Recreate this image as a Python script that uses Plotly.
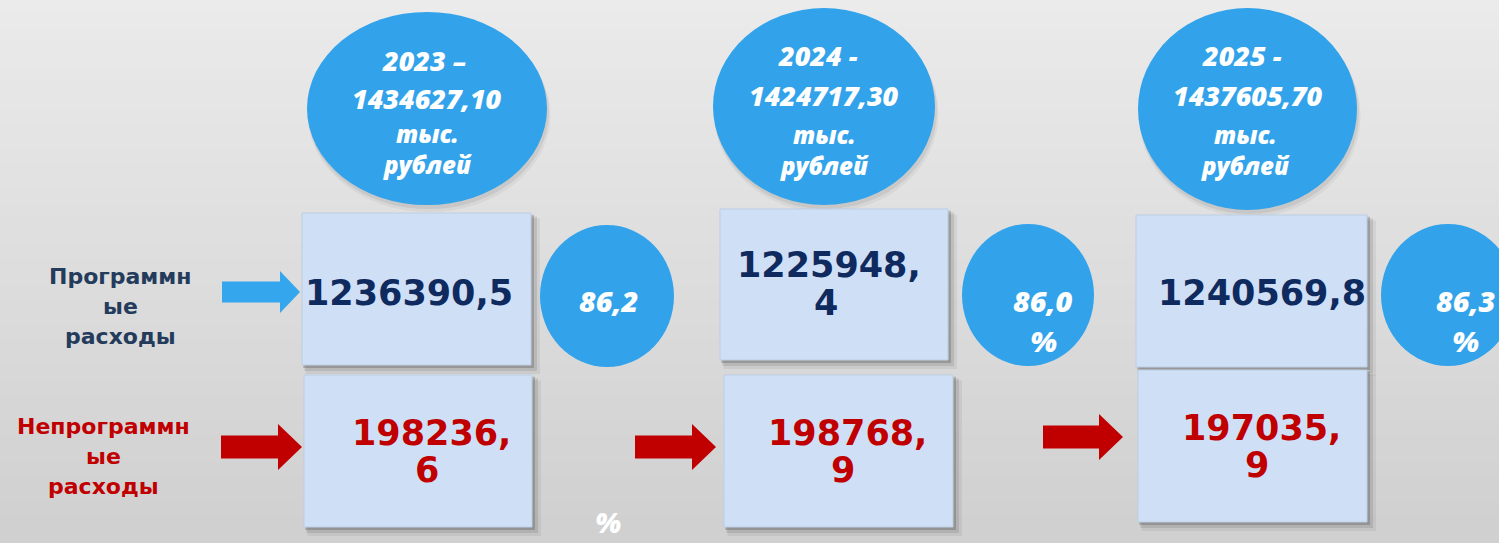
import plotly.graph_objects as go

# ---------------- data ----------------
years = ["2023", "2024", "2025"]
dash = ["–", "-", "-"]
totals = ["1434627,10", "1424717,30", "1437605,70"]
program = ["1236390,5", "1225948,4", "1240569,8"]
nonprogram = ["198236,6", "198768,9", "197035,9"]
share = ["86,2", "86,0", "86,3"]
label_prog = ["Программн", "ые", "расходы"]
label_nonprog = ["Непрограммн", "ые", "расходы"]
unit = ["тыс.", "рублей"]

# ---------------- layout (pixel geometry) ----------------
W, H = 1499, 543
ell = [(307, 547, 12, 205), (713, 935, 8, 205), (1138, 1357, 8, 210)]
pbox = [(302, 531, 213, 365), (720, 948, 209, 360), (1136, 1367, 215, 367)]
nbox = [(304, 532, 375, 527), (724, 953, 375, 527), (1138, 1367, 370, 522)]
circ = [(540, 674, 225, 367), (962, 1094, 224, 366), (1381, 1515, 224, 366)]
prog_wrap = [False, True, False]
pct_split = [True, False, False]   # 2023: "%" drifted below circle

BLUE = "#32a3ea"
BOX = "#cfe0f6"
NAVY = "#0f2a5e"
RED = "#c00000"
LABEL_BLUE = "#243b5c"

shapes = []
ann = []

# background gradient
top = (235, 235, 235)
bot = (208, 208, 208)
n = 40
for i in range(n):
    t = i / (n - 1)
    c = tuple(int(top[k] + (bot[k] - top[k]) * t) for k in range(3))
    shapes.append(dict(type="rect", xref="x", yref="y", x0=0, x1=W,
                       y0=H * i / n, y1=H * (i + 1) / n + 1,
                       fillcolor="rgb(%d,%d,%d)" % c, line_width=0, layer="below"))


def box(b):
    x0, x1, y0, y1 = b
    for d, a in [(9, 0.07), (6, 0.12), (3, 0.22)]:
        shapes.append(dict(type="rect", x0=x0 + d * 0.4, x1=x1 + d, y0=y0 + d * 0.6, y1=y1 + d,
                           fillcolor="rgba(40,40,40,%.2f)" % a, line_width=0))
    shapes.append(dict(type="rect", x0=x0, x1=x1, y0=y0, y1=y1, fillcolor=BOX,
                       line=dict(color="#bccde4", width=1)))


def ellipse(e, shadow=True):
    x0, x1, y0, y1 = e
    if shadow:
        for d, a in [(7, 0.06), (4, 0.09)]:
            shapes.append(dict(type="circle", x0=x0 + 1, x1=x1 + d * 0.5, y0=y0 + d, y1=y1 + d,
                               fillcolor="rgba(60,60,60,%.2f)" % a, line_width=0))
    shapes.append(dict(type="circle", x0=x0, x1=x1, y0=y0, y1=y1, fillcolor=BLUE, line_width=0))


def text(x, y, s, size, color, family="DejaVu Sans", weight="bold", style="normal",
         yanchor="middle"):
    ann.append(dict(x=x, y=y, xref="x", yref="y", text=s, showarrow=False,
                    font=dict(size=size, color=color, family=family, weight=weight, style=style),
                    xanchor="center", yanchor=yanchor))


def arrow(x0, x1, yc, body, head, headlen, color):
    xh = x1 - headlen
    p = ("M %g %g L %g %g L %g %g L %g %g L %g %g L %g %g L %g %g Z" %
         (x0, yc - body / 2, xh, yc - body / 2, xh, yc - head / 2, x1, yc,
          xh, yc + head / 2, xh, yc + body / 2, x0, yc + body / 2))
    shapes.append(dict(type="path", path=p, fillcolor=color, line_width=0))


for i in range(3):
    ellipse(ell[i])
    box(pbox[i])
    box(nbox[i])
    ellipse(circ[i], shadow=False)

# arrows
arrow(222, 300, 292, 21, 42, 20, "#34a6ee")
arrow(221, 302, 447, 23, 46, 24, RED)
arrow(635, 716, 447, 23, 46, 24, RED)
arrow(1043, 1123, 437, 23, 46, 24, RED)

# left labels
for j, s in enumerate(label_prog):
    text(120, 276 + j * 30, s, 22, LABEL_BLUE)
for j, s in enumerate(label_nonprog):
    text(103, 426 + j * 30, s, 22, RED)

EF = "Open Sans"
EW = 800
# ellipse texts
ell_dx = [(-3, 0, 0), (-6, 0, 0), (-6, 0, -2)]
ell_y = [(60, 98, 149), (55, 95, 150), (55, 95, 150)]
for i in range(3):
    cx = (ell[i][0] + ell[i][1]) / 2
    text(cx + ell_dx[i][0], ell_y[i][0], years[i] + " " + dash[i], 27, "white",
         family=EF, weight=EW, style="italic")
    text(cx + ell_dx[i][1], ell_y[i][1], totals[i], 27, "white",
         family=EF, weight=EW, style="italic")
    text(cx + ell_dx[i][2], ell_y[i][2], unit[0] + "<br>" + unit[1], 24, "white",
         family=EF, weight=EW, style="italic")

# program values
prog_pos = [(409, 293), (829, 265), (1262, 293)]
for i in range(3):
    x, y = prog_pos[i]
    if prog_wrap[i]:
        a, b = program[i].split(",")
        text(x, y, a + ",", 35, NAVY)
        text(x - 3, y + 38, b, 35, NAVY)
    else:
        text(x, y, program[i], 35, NAVY)

# non-program values
np_pos = [(431, 433), (847, 433), (1261, 428)]
for i in range(3):
    x, y = np_pos[i]
    a, b = nonprogram[i].split(",")
    text(x, y, a + ",", 35, RED)
    text(x - 4, y + 37, b, 35, RED)

# percent circles
pct_pos = [(608, 300), (1043, 300), (1465, 300)]
for i in range(3):
    x, y = pct_pos[i]
    text(x, y, share[i], 29, "white", family=EF, weight=EW, style="italic")
    if pct_split[i]:
        text(608, 543, "%", 28, "white", family=EF, weight=EW, style="italic", yanchor="bottom")
    else:
        text(x, y + 40, "%", 29, "white", family=EF, weight=EW, style="italic")

fig = go.Figure()
fig.add_trace(go.Scatter(x=[0, W], y=[0, H], mode="markers", marker=dict(opacity=0),
                         hoverinfo="skip", showlegend=False))
fig.update_layout(
    width=W, height=H, margin=dict(l=0, r=0, t=0, b=0),
    paper_bgcolor="#e0e0e0", plot_bgcolor="#e0e0e0",
    xaxis=dict(range=[0, W], visible=False, fixedrange=True),
    yaxis=dict(range=[H, 0], visible=False, fixedrange=True),
    shapes=shapes, annotations=ann, showlegend=False,
)
fig.write_html("out.html", post_script="document.body.style.margin='0px';",
               config={"displayModeBar": False})
